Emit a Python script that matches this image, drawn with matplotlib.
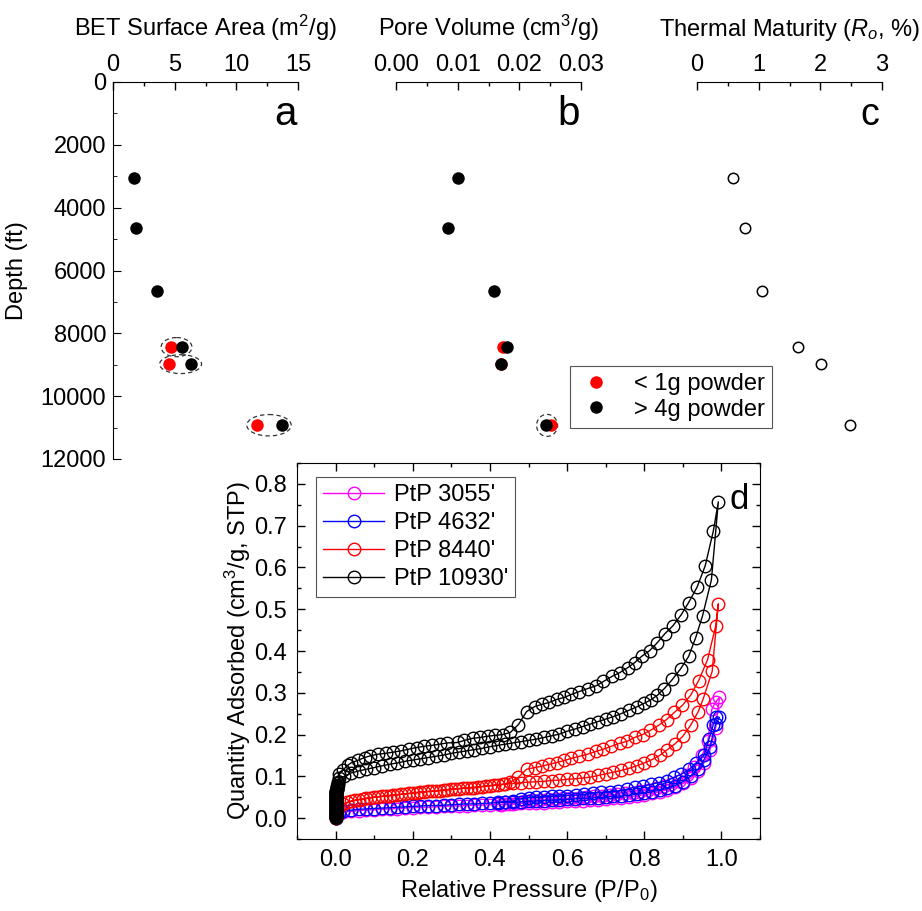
import matplotlib
matplotlib.use("Agg")
import matplotlib.pyplot as plt
from matplotlib.patches import Ellipse
from matplotlib.lines import Line2D
from matplotlib.ticker import MultipleLocator, FormatStrFormatter

plt.rcParams['font.family'] = ['Liberation Sans', 'DejaVu Sans']
plt.rcParams['mathtext.fontset'] = 'custom'
plt.rcParams['mathtext.rm'] = 'Liberation Sans'
plt.rcParams['mathtext.it'] = 'Liberation Sans:italic'
plt.rcParams['font.size'] = 17

# ---------------- data: panels a-c ----------------
depth = [3055, 4632, 6650, 8440, 8980, 10930]
bet_large = [1.68, 1.87, 3.58, 5.56, 6.29, 13.7]       # > 4g powder
bet_small_depth = [8440, 8980, 10930]
bet_small = [4.69, 4.58, 11.69]                        # < 1g powder
pv_large = [0.0101, 0.0084, 0.0159, 0.0180, 0.0170, 0.0244]
pv_small = [0.0173, 0.0170, 0.0251]
ro = [0.59, 0.78, 1.06, 1.63, 2.01, 2.48]

# ---------------- data: panel d isotherms ----------------
m_ads_p = [0.0, 0.001, 0.003, 0.01, 0.02, 0.04, 0.06, 0.08, 0.10, 0.12, 0.14, 0.16, 0.18, 0.20,
           0.22, 0.24, 0.26, 0.28, 0.30, 0.32, 0.34, 0.36, 0.38, 0.40, 0.42, 0.44, 0.46, 0.48,
           0.50, 0.52, 0.54, 0.56, 0.58, 0.60, 0.62, 0.64, 0.66, 0.68, 0.70, 0.72, 0.74, 0.76,
           0.78, 0.80, 0.82, 0.84, 0.86, 0.88, 0.90, 0.92, 0.94, 0.955, 0.97, 0.985, 0.995]
m_ads_q = [0.000, 0.004, 0.008, 0.011, 0.014, 0.016, 0.018, 0.019, 0.020, 0.021, 0.022, 0.023, 0.024, 0.025,
           0.026, 0.026, 0.027, 0.028, 0.029, 0.029, 0.030, 0.031, 0.031, 0.032, 0.033, 0.033, 0.034, 0.035,
           0.036, 0.036, 0.037, 0.038, 0.039, 0.040, 0.041, 0.042, 0.043, 0.044, 0.045, 0.047, 0.049, 0.051,
           0.053, 0.056, 0.059, 0.063, 0.068, 0.074, 0.083, 0.095, 0.113, 0.133, 0.162, 0.215, 0.289]
m_des_p = [0.985, 0.975, 0.965, 0.95, 0.93, 0.91, 0.89, 0.87, 0.85, 0.83, 0.81, 0.79, 0.77, 0.75, 0.73,
           0.71, 0.69, 0.67, 0.65, 0.63, 0.61, 0.59, 0.57, 0.55, 0.53, 0.51, 0.49, 0.47, 0.45, 0.43]
m_des_q = [0.278, 0.260, 0.184, 0.150, 0.122, 0.102, 0.090, 0.082, 0.076, 0.071, 0.067, 0.064, 0.061, 0.059, 0.057,
           0.055, 0.053, 0.052, 0.050, 0.049, 0.048, 0.047, 0.046, 0.045, 0.044, 0.043, 0.042, 0.036, 0.033, 0.032]

b_ads_p = m_ads_p
b_ads_q = [0.000, 0.004, 0.008, 0.013, 0.016, 0.019, 0.021, 0.022, 0.023, 0.024, 0.025, 0.026, 0.027, 0.028,
           0.029, 0.030, 0.030, 0.031, 0.032, 0.033, 0.034, 0.034, 0.035, 0.036, 0.037, 0.038, 0.038, 0.039,
           0.040, 0.041, 0.042, 0.043, 0.044, 0.045, 0.046, 0.047, 0.048, 0.049, 0.050, 0.052, 0.053, 0.055,
           0.057, 0.060, 0.063, 0.067, 0.071, 0.078, 0.087, 0.100, 0.118, 0.140, 0.170, 0.225, 0.241]
b_des_p = [0.987, 0.979, 0.968, 0.955, 0.935, 0.917, 0.896, 0.878, 0.858, 0.837, 0.818, 0.796, 0.775, 0.754, 0.731,
           0.710, 0.689, 0.666, 0.645, 0.623, 0.601, 0.58, 0.56, 0.54, 0.52, 0.50, 0.48, 0.46, 0.44, 0.42]
b_des_q = [0.243, 0.224, 0.190, 0.150, 0.133, 0.117, 0.105, 0.098, 0.089, 0.085, 0.081, 0.076, 0.074, 0.069, 0.065,
           0.062, 0.062, 0.060, 0.057, 0.055, 0.054, 0.053, 0.052, 0.051, 0.050, 0.049, 0.046, 0.041, 0.039, 0.038]

r_ads_p = [0.0, 0.001, 0.003, 0.01, 0.02, 0.04, 0.06, 0.08, 0.10, 0.12, 0.14, 0.16, 0.18, 0.20,
           0.22, 0.24, 0.26, 0.28, 0.30, 0.32, 0.34, 0.36, 0.38, 0.40, 0.42, 0.44, 0.46, 0.48,
           0.50, 0.52, 0.54, 0.56, 0.58, 0.60, 0.62, 0.64, 0.66, 0.68, 0.70, 0.72, 0.74, 0.76,
           0.78, 0.80, 0.82, 0.84, 0.86, 0.88, 0.90, 0.92, 0.94, 0.953, 0.976, 0.992]
r_ads_q = [0.000, 0.008, 0.016, 0.026, 0.033, 0.040, 0.044, 0.047, 0.050, 0.052, 0.054, 0.056, 0.058, 0.060,
           0.062, 0.064, 0.065, 0.067, 0.069, 0.070, 0.072, 0.073, 0.075, 0.077, 0.079, 0.081, 0.083, 0.085,
           0.086, 0.087, 0.088, 0.090, 0.091, 0.093, 0.094, 0.096, 0.098, 0.102, 0.106, 0.110, 0.114, 0.119,
           0.125, 0.132, 0.140, 0.150, 0.164, 0.178, 0.196, 0.222, 0.255, 0.286, 0.351, 0.513]
r_des_p = [0.985, 0.964, 0.941, 0.920, 0.899, 0.878, 0.858, 0.837, 0.816, 0.796, 0.775, 0.756, 0.736, 0.715,
           0.694, 0.676, 0.653, 0.632, 0.611, 0.593, 0.573, 0.554, 0.534, 0.516, 0.495, 0.474, 0.453, 0.433,
           0.41, 0.39, 0.37, 0.35, 0.33, 0.31, 0.29, 0.27, 0.25, 0.23, 0.21, 0.19, 0.17, 0.15, 0.13, 0.11,
           0.09, 0.07, 0.05, 0.03]
r_des_q = [0.459, 0.379, 0.329, 0.294, 0.270, 0.253, 0.236, 0.222, 0.210, 0.200, 0.193, 0.184, 0.179, 0.172,
           0.165, 0.160, 0.153, 0.148, 0.143, 0.138, 0.133, 0.129, 0.124, 0.121, 0.117, 0.098, 0.086, 0.081,
           0.079, 0.077, 0.075, 0.073, 0.072, 0.070, 0.068, 0.066, 0.064, 0.063, 0.061, 0.059, 0.057, 0.055,
           0.053, 0.051, 0.049, 0.046, 0.043, 0.038]

# black: dense low-pressure dosing points (p ~ 0), then the rest of the adsorption branch
k_low_p = [0.0, 0.0, 0.0, 0.0, 0.0, 0.0, 0.0, 0.0, 0.0, 0.0, 0.0001, 0.0001, 0.0001, 0.0001, 0.0001,
           0.0002, 0.0002, 0.0002, 0.0002, 0.0002, 0.0003, 0.0003, 0.0003, 0.0003, 0.0004, 0.0004, 0.0004,
           0.0005, 0.0005, 0.0005, 0.0006, 0.0006, 0.0007, 0.0007, 0.0008, 0.0008, 0.0009, 0.001, 0.0011,
           0.0012, 0.0013, 0.0015, 0.0017, 0.0019, 0.0021, 0.0024, 0.0027, 0.003, 0.0035, 0.004, 0.0045,
           0.005, 0.006, 0.007]
k_low_q = [0.000, 0.0015, 0.003, 0.0045, 0.006, 0.0075, 0.009, 0.0105, 0.012, 0.0135, 0.015, 0.0165, 0.018,
           0.0195, 0.021, 0.0225, 0.024, 0.0255, 0.027, 0.0285, 0.030, 0.0315, 0.033, 0.0345, 0.036, 0.0375,
           0.039, 0.0405, 0.042, 0.0435, 0.045, 0.0465, 0.048, 0.0495, 0.051, 0.0525, 0.054, 0.0555, 0.057,
           0.0585, 0.060, 0.0615, 0.063, 0.0645, 0.066, 0.0675, 0.069, 0.0705, 0.072, 0.0745, 0.077, 0.080,
           0.083, 0.086]
k_ads_p = [0.01, 0.023, 0.04, 0.06, 0.08, 0.10, 0.12, 0.14, 0.16, 0.18, 0.20, 0.22, 0.24, 0.26, 0.28,
           0.30, 0.32, 0.34, 0.36, 0.38, 0.40, 0.42, 0.44, 0.46, 0.48, 0.50, 0.52, 0.54, 0.56, 0.58,
           0.60, 0.62, 0.64, 0.66, 0.68, 0.70, 0.72, 0.74, 0.76, 0.78, 0.80,
           0.817, 0.834, 0.852, 0.873, 0.894, 0.915, 0.933, 0.951, 0.974, 0.992]
k_ads_q = [0.095, 0.100, 0.108, 0.113, 0.117, 0.121, 0.125, 0.129, 0.132, 0.136, 0.139, 0.142, 0.145, 0.148, 0.151,
           0.155, 0.158, 0.161, 0.164, 0.167, 0.171, 0.174, 0.177, 0.180, 0.183, 0.186, 0.189, 0.193, 0.197, 0.201,
           0.208, 0.213, 0.219, 0.225, 0.231, 0.237, 0.243, 0.250, 0.258, 0.266, 0.275,
           0.283, 0.294, 0.310, 0.332, 0.357, 0.387, 0.431, 0.484, 0.570, 0.757]
k_des_p = [0.979, 0.958, 0.937, 0.915, 0.896, 0.874, 0.853, 0.834, 0.814, 0.793, 0.775, 0.757, 0.736, 0.716,
           0.694, 0.676, 0.653, 0.632, 0.611, 0.593, 0.573, 0.554, 0.534, 0.516, 0.495, 0.474, 0.453, 0.433,
           0.414, 0.394, 0.375, 0.355, 0.334, 0.316, 0.29, 0.27, 0.249, 0.23, 0.21, 0.19, 0.17, 0.15, 0.13,
           0.109, 0.09, 0.075, 0.057, 0.04, 0.031, 0.02, 0.01]
k_des_q = [0.687, 0.604, 0.553, 0.516, 0.487, 0.460, 0.441, 0.420, 0.401, 0.387, 0.372, 0.360, 0.348, 0.339,
           0.327, 0.317, 0.310, 0.303, 0.296, 0.289, 0.284, 0.277, 0.272, 0.267, 0.255, 0.224, 0.205, 0.200,
           0.198, 0.196, 0.193, 0.191, 0.186, 0.181, 0.180, 0.177, 0.174, 0.172, 0.169, 0.165, 0.161, 0.158, 0.155,
           0.153, 0.149, 0.145, 0.138, 0.132, 0.126, 0.116, 0.105]

samples = ["PtP 3055'", "PtP 4632'", "PtP 8440'", "PtP 10930'"]
colors = ['#FF00FF', '#0000FF', '#FF0000', '#000000']
isotherms = [(m_ads_p, m_ads_q, m_des_p, m_des_q),
             (b_ads_p, b_ads_q, b_des_p, b_des_q),
             (r_ads_p, r_ads_q, r_des_p, r_des_q),
             (k_low_p + k_ads_p, k_low_q + k_ads_q, k_des_p, k_des_q)]

# ---------------- figure ----------------
W, H = 922, 911
fig = plt.figure(figsize=(W / 100, H / 100), dpi=100)

def fx(px):
    return px / W

def fy(py):
    return 1 - py / H

top_y, bot_y = 82, 459
panels = [(113, 298), (396, 581), (697, 882)]
axes = []
for (x0, x1) in panels:
    ax = fig.add_axes([fx(x0), fy(bot_y), (x1 - x0) / W, (bot_y - top_y) / H])
    ax.set_ylim(12000, 0)
    for s in ['right', 'bottom']:
        ax.spines[s].set_visible(False)
    ax.xaxis.set_ticks_position('top')
    ax.xaxis.set_label_position('top')
    ax.tick_params(axis='x', which='both', direction='in', top=True, bottom=False,
                   labeltop=True, labelbottom=False, pad=4)
    ax.tick_params(axis='x', which='major', length=6, width=1)
    ax.tick_params(axis='x', which='minor', length=3, width=1)
    ax.patch.set_alpha(0)
    axes.append(ax)

axa, axb, axc = axes
# panel a
axa.set_xlim(0, 15)
axa.xaxis.set_major_locator(MultipleLocator(5))
axa.xaxis.set_minor_locator(MultipleLocator(2.5))
axa.yaxis.set_major_locator(MultipleLocator(2000))
axa.yaxis.set_minor_locator(MultipleLocator(1000))
axa.tick_params(axis='y', which='both', direction='in', left=True, right=False)
axa.tick_params(axis='y', which='major', length=6, pad=5)
axa.tick_params(axis='y', which='minor', length=3)
axa.set_ylabel('Depth (ft)', labelpad=9)
axa.set_xlabel('BET Surface Area (m$^2$/g)', labelpad=13)
axa.plot(bet_small, bet_small_depth, 'o', color='#FF0000', ms=9, mec='none', zorder=3)
axa.plot(bet_large, depth, 'o', color='k', ms=9, mec='none', zorder=3)
for cx, cy, w, h in [(5.15, 8440, 2.5, 610), (5.48, 8980, 3.4, 600), (12.65, 10925, 3.6, 680)]:
    axa.add_patch(Ellipse((cx, cy), w, h, fill=False, ec='#333333', lw=0.9, ls=(0, (3.5, 2.5)), zorder=2))
axa.text(0.995, 0.886, 'a', transform=axa.transAxes, fontsize=29, ha='right', va='baseline')

# panel b
axb.spines['left'].set_visible(False)
axb.tick_params(axis='y', which='both', left=False, labelleft=False)
axb.set_xlim(0, 0.03)
axb.xaxis.set_major_locator(MultipleLocator(0.01))
axb.xaxis.set_minor_locator(MultipleLocator(0.005))
axb.xaxis.set_major_formatter(FormatStrFormatter('%.2f'))
axb.set_xlabel('Pore Volume (cm$^3$/g)', labelpad=13)
axb.plot(pv_small, bet_small_depth, 'o', color='#FF0000', ms=9, mec='none', zorder=3)
axb.plot(pv_large, depth, 'o', color='k', ms=9, mec='none', zorder=3)
axb.add_patch(Ellipse((0.0245, 10930), 0.0034, 700, fill=False, ec='#333333', lw=0.9,
                      ls=(0, (3.5, 2.5)), zorder=2))
axb.text(0.995, 0.886, 'b', transform=axb.transAxes, fontsize=29, ha='right', va='baseline')

# panel c
axc.spines['left'].set_visible(False)
axc.tick_params(axis='y', which='both', left=False, labelleft=False)
axc.set_xlim(0, 3)
axc.xaxis.set_major_locator(MultipleLocator(1))
axc.xaxis.set_minor_locator(MultipleLocator(0.5))
axc.set_xlabel('Thermal Maturity ($R_o$, %)', labelpad=13)
axc.plot(ro, depth, 'o', mfc='none', mec='k', ms=7.5, mew=1.1, zorder=3)
axc.text(0.985, 0.886, 'c', transform=axc.transAxes, fontsize=27, ha='right', va='baseline')

handles = [Line2D([], [], ls='none', marker='o', color='#FF0000', ms=9, mec='none'),
           Line2D([], [], ls='none', marker='o', color='k', ms=9, mec='none')]
leg = axc.legend(handles, ['< 1g powder', '> 4g powder'], loc='upper left',
                 bbox_to_anchor=(fx(570), fy(366)), bbox_transform=fig.transFigure,
                 fancybox=False, edgecolor='#555555', framealpha=1, fontsize=17,
                 handletextpad=0.8, borderpad=0.3, labelspacing=0.15, handlelength=1.6,
                 borderaxespad=0)
leg.get_frame().set_linewidth(0.8)

# panel d
axd = fig.add_axes([fx(297), fy(839), (760 - 297) / W, (839 - 463) / H])
for (ap, aq, dp, dq), lab, c in zip(isotherms, samples, colors):
    pp = list(ap) + list(dp)
    qq = list(aq) + list(dq)
    axd.plot(pp, qq, '-o', color=c, mfc='none', mec=c, ms=9, mew=1.0, lw=1.0, label=lab)
axd.set_xlim(-0.1, 1.1)
axd.set_ylim(-0.05, 0.85)
axd.xaxis.set_major_locator(MultipleLocator(0.2))
axd.xaxis.set_minor_locator(MultipleLocator(0.1))
axd.yaxis.set_major_locator(MultipleLocator(0.1))
axd.yaxis.set_minor_locator(MultipleLocator(0.05))
axd.xaxis.set_major_formatter(FormatStrFormatter('%.1f'))
axd.yaxis.set_major_formatter(FormatStrFormatter('%.1f'))
axd.tick_params(which='both', direction='in', top=True, right=True, width=1)
axd.tick_params(which='major', length=6, pad=7)
axd.tick_params(which='minor', length=3)
axd.set_xlabel('Relative Pressure (P/P$_0$)', labelpad=5)
axd.set_ylabel('Quantity Adsorbed (cm$^3$/g, STP)', labelpad=1)
axd.text(0.975, 0.947, 'd', transform=axd.transAxes, fontsize=25, ha='right', va='top')
legd = axd.legend(loc='upper left', bbox_to_anchor=(0.041, 0.962), fancybox=False,
                  edgecolor='#555555', framealpha=1, fontsize=17, handlelength=2.6,
                  handletextpad=0.4, borderpad=0.3, labelspacing=0.25, borderaxespad=0)
legd.get_frame().set_linewidth(0.8)

fig.savefig('out.png', dpi=100)
